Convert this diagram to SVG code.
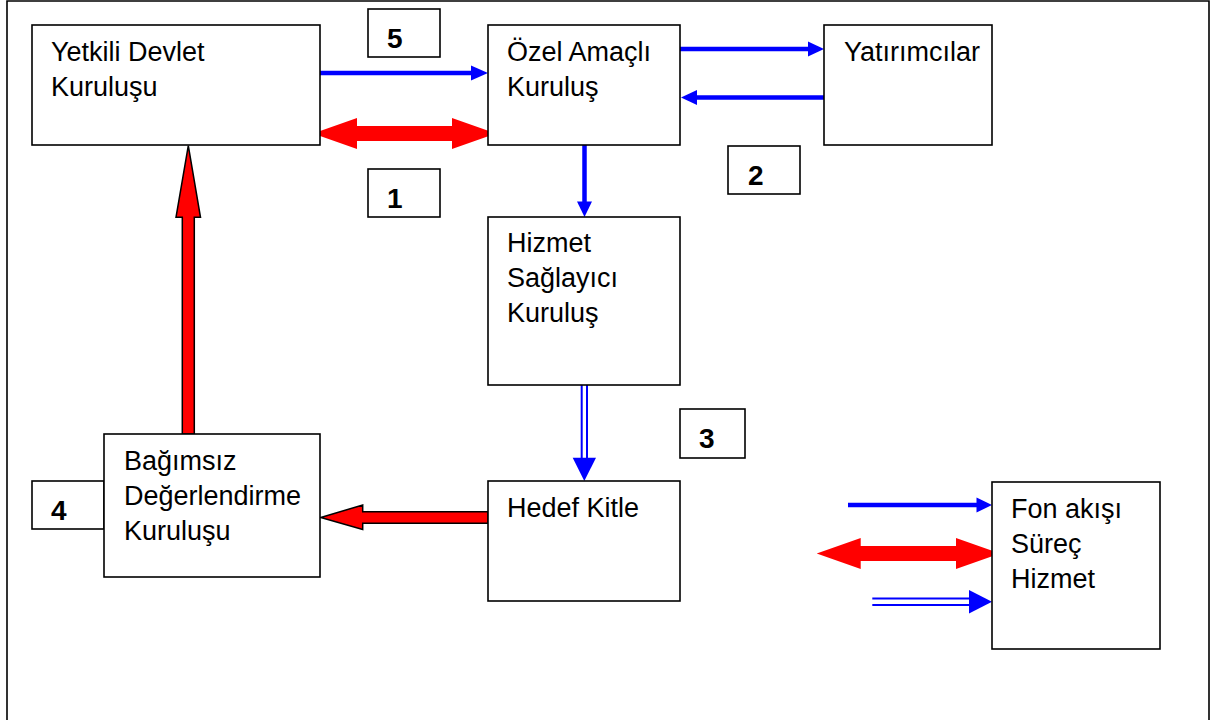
<svg xmlns="http://www.w3.org/2000/svg" width="1211" height="720" viewBox="0 0 1211 720">
<style>
.box{fill:#fff;stroke:#000;stroke-width:1.6}
.lbl{font-family:"Liberation Sans",Arial,sans-serif;font-size:27px;fill:#000}
.num{font-family:"Liberation Sans",Arial,sans-serif;font-size:28px;font-weight:bold;fill:#000}
.blue{stroke:#0000ff;stroke-width:4.5;fill:none}
.bluehead{fill:#0000ff;stroke:none}
.dbl{stroke:#0000ff;stroke-width:2;fill:none}
.red{fill:#ff0000;stroke:none}
.redo{fill:#ff0000;stroke:#000;stroke-width:1.5;stroke-linejoin:miter}
</style>
<rect width="1211" height="720" fill="#fff"/>
<path d="M7,730 V1 H1209 V730" fill="none" stroke="#000" stroke-width="1.6"/>

<g id="connectors">
  <line class="blue" x1="320" y1="73" x2="473" y2="73"/>
  <polygon class="bluehead" points="471,65.5 488,73 471,80.5"/>
  <polygon class="red" points="313,133.5 357,118 357,126 452,126 452,118 496,133.5 452,149 452,141 357,141 357,149"/>
  <line class="blue" x1="680" y1="49" x2="810" y2="49"/>
  <polygon class="bluehead" points="808,41.5 824,49 808,56.5"/>
  <line class="blue" x1="824" y1="97.5" x2="695" y2="97.5"/>
  <polygon class="bluehead" points="697,90 681,97.5 697,105"/>
  <line class="blue" x1="584.5" y1="145" x2="584.5" y2="203"/>
  <polygon class="bluehead" points="577,201.5 584.5,217 592,201.5"/>
  <line class="dbl" x1="581.7" y1="385" x2="581.7" y2="459"/>
  <line class="dbl" x1="587" y1="385" x2="587" y2="459"/>
  <polygon class="bluehead" points="572.7,457.7 596,457.7 584.3,481"/>
  <polygon class="redo" points="488,511.7 362.7,511.7 362.7,505 320.7,517.5 362.7,529.5 362.7,523.3 488,523.3"/>
  <polygon class="redo" points="182.3,434 182.3,217.3 176,217.3 188.3,145.7 200.5,217.3 194.3,217.3 194.3,434"/>
  <line class="blue" x1="848" y1="505" x2="978" y2="505"/>
  <polygon class="bluehead" points="976.5,497.5 992,505 976.5,512.5"/>
  <polygon class="red" points="816.7,553.5 860.7,538 860.7,546 956,546 956,538 1000,553.5 956,569 956,561 860.7,561 860.7,569"/>
  <line class="dbl" x1="872.3" y1="598.5" x2="970" y2="598.5"/>
  <line class="dbl" x1="872.3" y1="605" x2="970" y2="605"/>
  <polygon class="bluehead" points="969,590 992,601.7 969,613.4"/>
</g>

<g id="yetkili">
  <rect class="box" x="32" y="25" width="288" height="120"/>
  <text class="lbl" x="51" y="61">Yetkili Devlet</text>
  <text class="lbl" x="51" y="96">Kuruluşu</text>
</g>
<g id="ozel">
  <rect class="box" x="488" y="25" width="192" height="120"/>
  <text class="lbl" x="507" y="61">Özel Amaçlı</text>
  <text class="lbl" x="507" y="96">Kuruluş</text>
</g>
<g id="yatirimcilar">
  <rect class="box" x="824" y="25" width="168" height="120"/>
  <text class="lbl" x="844" y="61">Yatırımcılar</text>
</g>
<g id="hizmet">
  <rect class="box" x="488" y="217" width="192" height="168"/>
  <text class="lbl" x="507" y="252">Hizmet</text>
  <text class="lbl" x="507" y="287">Sağlayıcı</text>
  <text class="lbl" x="507" y="322">Kuruluş</text>
</g>
<g id="hedef">
  <rect class="box" x="488" y="481" width="192" height="120"/>
  <text class="lbl" x="507" y="517">Hedef Kitle</text>
</g>
<g id="num4">
  <rect class="box" x="32" y="481" width="72" height="48"/>
  <text class="num" x="51" y="520">4</text>
</g>
<g id="bagimsiz">
  <rect class="box" x="104" y="434" width="216" height="143"/>
  <text class="lbl" x="124" y="470">Bağımsız</text>
  <text class="lbl" x="124" y="505">Değerlendirme</text>
  <text class="lbl" x="124" y="540">Kuruluşu</text>
</g>
<g id="legend">
  <rect class="box" x="992" y="482" width="168" height="167"/>
  <text class="lbl" x="1011" y="518">Fon akışı</text>
  <text class="lbl" x="1011" y="553">Süreç</text>
  <text class="lbl" x="1011" y="588">Hizmet</text>
</g>
<g id="num5">
  <rect class="box" x="368" y="9" width="72" height="48"/>
  <text class="num" x="387" y="48">5</text>
</g>
<g id="num1">
  <rect class="box" x="368" y="169" width="72" height="48"/>
  <text class="num" x="387" y="208">1</text>
</g>
<g id="num2">
  <rect class="box" x="728" y="146" width="72" height="48"/>
  <text class="num" x="748" y="185">2</text>
</g>
<g id="num3">
  <rect class="box" x="680" y="409" width="65" height="49"/>
  <text class="num" x="699" y="448">3</text>
</g>
</svg>
